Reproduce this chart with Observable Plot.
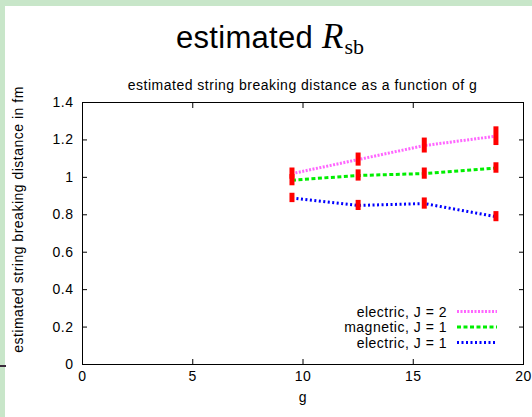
<!DOCTYPE html>
<html><head><meta charset="utf-8">
<script src="https://cdn.jsdelivr.net/npm/d3@7"></script>
<script src="https://cdn.jsdelivr.net/npm/@observablehq/plot@0.6"></script>
<style>
body{margin:0;background:#fff;}
#wrap{position:relative;width:532px;height:417px;overflow:hidden;background:#fff;font-family:"Liberation Sans",Arial,sans-serif;}
#bt{position:absolute;left:0;top:0;width:532px;height:6px;background:#c8e6c9}
#bl{position:absolute;left:0;top:0;width:5px;height:417px;background:#c8e6c9}
#mk{position:absolute;left:0;top:365px;width:6px;height:2px;background:#3a2a3a}
#title{position:absolute;left:0;top:17px;width:540px;text-align:center;font-size:31px;line-height:40px;color:#000;letter-spacing:0.3px;white-space:nowrap;}
#title .R{font-family:"Liberation Serif",serif;font-style:italic;font-size:35px;letter-spacing:0;}
#title .sb{font-family:"Liberation Serif",serif;font-size:22px;position:relative;top:6px;letter-spacing:0;margin-left:1px;}
#sub{position:absolute;left:82px;width:441px;top:77px;text-align:center;font-size:14px;letter-spacing:0.5px;color:#000;white-space:nowrap;}
#chart{position:absolute;left:5px;top:95px;}
#legend{position:absolute;left:0;top:0;width:532px;height:417px;pointer-events:none;}
.lr{position:absolute;right:85px;font-size:14px;letter-spacing:0.5px;line-height:16px;text-align:right;white-space:nowrap;}
</style></head>
<body>
<div id="wrap">
<div id="bt"></div><div id="bl"></div><div id="mk"></div>
<div id="title">estimated <span class="R">R</span><span class="sb">sb</span></div>
<div id="sub">estimated string breaking distance as a function of g</div>
<div id="chart"></div>
<div id="legend"></div>
</div>
<script>
const gValues = [9.5, 12.5, 15.5, 18.75];
const seriesNames = ["electric, J = 2", "magnetic, J = 1", "electric, J = 1"];
const electricJ2 = [1.02, 1.095, 1.17, 1.22];
const electricJ2Err = [0.03, 0.035, 0.04, 0.05];
const magneticJ1 = [0.985, 1.01, 1.02, 1.05];
const magneticJ1Err = [0.03, 0.03, 0.03, 0.028];
const electricJ1 = [0.89, 0.85, 0.86, 0.79];
const electricJ1Err = [0.025, 0.027, 0.03, 0.027];
const xTicks = [0, 5, 10, 15, 20];
const yTicks = [0, 0.2, 0.4, 0.6, 0.8, 1, 1.2, 1.4];
const colors = ["#ff66ff", "#00ee00", "#0000ff"];
const dashes = ["2,1.5", "4,2.5", "2,2.5"];

const allVals = [electricJ2, magneticJ1, electricJ1];
const allErr = [electricJ2Err, magneticJ1Err, electricJ1Err];
const data = [];
seriesNames.forEach((s, i) => gValues.forEach((g, j) => data.push({series: s, idx: i, g, v: allVals[i][j], lo: allVals[i][j] - allErr[i][j], hi: allVals[i][j] + allErr[i][j]})));

const fmt = d => String(+d.toFixed(1));
const lines = seriesNames.map((s, i) => Plot.line(data.filter(d => d.idx === i), {x: "g", y: "v", stroke: colors[i], strokeWidth: 3, strokeDasharray: dashes[i], strokeLinecap: "butt"}));

const chart = Plot.plot({
  width: 527, height: 322,
  marginLeft: 77, marginRight: 9, marginTop: 7, marginBottom: 53,
  style: {fontFamily: "Liberation Sans, Arial, sans-serif", fontSize: "14px", color: "#000", background: "transparent", letterSpacing: "0.5px", overflow: "visible"},
  x: {domain: [0, 20]},
  y: {domain: [0, 1.4]},
  marks: [
    Plot.axisX({anchor: "bottom", ticks: xTicks, tickSize: 0, tickPadding: 7, label: null, fontSize: 14}),
    Plot.axisX({anchor: "bottom", ticks: xTicks, tickSize: -5, tickFormat: () => "", label: null}),
    Plot.axisX({anchor: "top", ticks: xTicks, tickSize: -5, tickFormat: () => "", label: null}),
    Plot.axisY({anchor: "left", ticks: yTicks, tickSize: 0, tickPadding: 9, tickFormat: fmt, label: null, fontSize: 14}),
    Plot.axisY({anchor: "left", ticks: yTicks, tickSize: -5, tickFormat: () => "", label: null}),
    Plot.axisY({anchor: "right", ticks: yTicks, tickSize: -5, tickFormat: () => "", label: null}),
    Plot.frame({stroke: "#000", strokeWidth: 1}),
    ...lines,
    Plot.ruleX(data, {x: "g", y1: "lo", y2: "hi", stroke: "#ff0000", strokeWidth: 5}),
    Plot.text(["g"], {frameAnchor: "bottom", dy: 37, fontSize: 14}),
    Plot.text(["estimated string breaking distance in fm"], {frameAnchor: "left", textAnchor: "middle", rotate: -90, dx: -64, dy: -14, fontSize: 14})
  ]
});
document.getElementById("chart").appendChild(chart);

const leg = document.getElementById("legend");
const rowY = [311.5, 327, 342.5];
seriesNames.forEach((s, i) => {
  const t = document.createElement("div");
  t.className = "lr";
  t.style.top = (rowY[i] - 8) + "px";
  t.textContent = s;
  leg.appendChild(t);
});
const ns = "http://www.w3.org/2000/svg";
const svg = document.createElementNS(ns, "svg");
svg.setAttribute("width", 532); svg.setAttribute("height", 417);
svg.style.position = "absolute"; svg.style.left = "0"; svg.style.top = "0";
seriesNames.forEach((s, i) => {
  const l = document.createElementNS(ns, "line");
  l.setAttribute("x1", 457); l.setAttribute("x2", 497);
  l.setAttribute("y1", rowY[i]); l.setAttribute("y2", rowY[i]);
  l.setAttribute("stroke", colors[i]); l.setAttribute("stroke-width", 3);
  l.setAttribute("stroke-dasharray", dashes[i]);
  svg.appendChild(l);
});
leg.appendChild(svg);
</script>
</body></html>
